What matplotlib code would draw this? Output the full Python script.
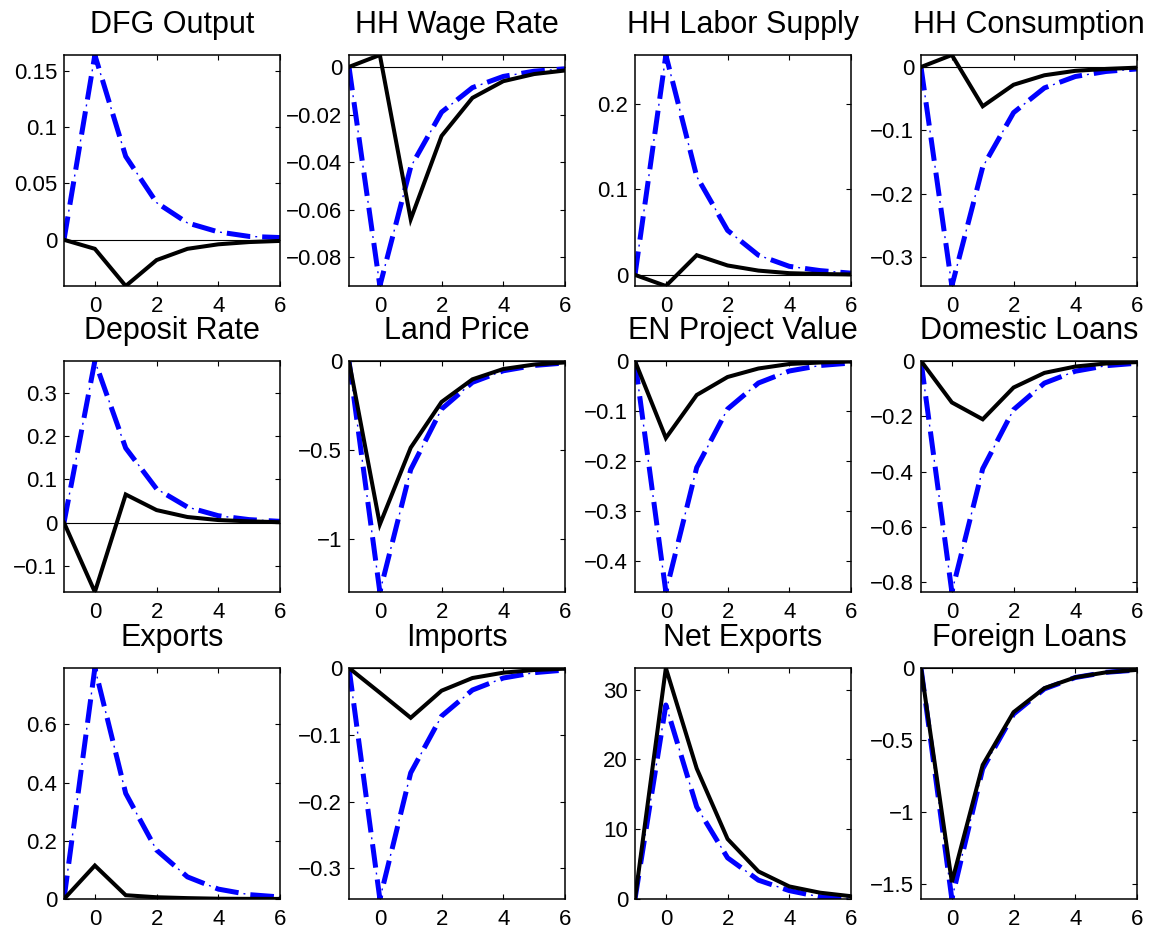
import matplotlib
matplotlib.use("Agg")
import matplotlib.pyplot as plt
from matplotlib.ticker import FixedLocator, FuncFormatter

plt.rcParams['font.family'] = ['Liberation Sans', 'DejaVu Sans']
plt.rcParams['lines.scale_dashes'] = False

horizon = [-1, 0, 1, 2, 3, 4, 5, 6]
xticks = [0, 2, 4, 6]

titles = ["DFG Output", "HH Wage Rate", "HH Labor Supply", "HH Consumption",
          "Deposit Rate", "Land Price", "EN Project Value", "Domestic Loans",
          "Exports", "Imports", "Net Exports", "Foreign Loans"]

dfg_black = [0, -0.008, -0.041, -0.018, -0.008, -0.004, -0.002, -0.001]
dfg_blue = [0, 0.164, 0.074, 0.033, 0.015, 0.007, 0.003, 0.002]
wage_black = [0, 0.005, -0.064, -0.029, -0.013, -0.006, -0.003, -0.0015]
wage_blue = [0, -0.092, -0.042, -0.019, -0.0087, -0.004, -0.0018, -0.0008]
labor_black = [0, -0.013, 0.023, 0.011, 0.005, 0.002, 0.001, 0.0005]
labor_blue = [0, 0.257, 0.115, 0.052, 0.023, 0.010, 0.005, 0.002]
cons_black = [0, 0.019, -0.062, -0.028, -0.013, -0.006, -0.003, -0.001]
cons_blue = [0, -0.346, -0.158, -0.072, -0.033, -0.015, -0.007, -0.003]
dep_black = [0, -0.16, 0.065, 0.029, 0.013, 0.006, 0.003, 0.001]
dep_blue = [0, 0.373, 0.172, 0.078, 0.036, 0.016, 0.007, 0.003]
land_black = [0, -0.918, -0.487, -0.230, -0.103, -0.045, -0.020, -0.008]
land_blue = [0, -1.298, -0.61, -0.27, -0.12, -0.055, -0.025, -0.011]
en_black = [0, -0.154, -0.068, -0.032, -0.015, -0.006, -0.003, -0.001]
en_blue = [0, -0.462, -0.213, -0.096, -0.044, -0.020, -0.009, -0.004]
dl_black = [0, -0.150, -0.211, -0.096, -0.043, -0.020, -0.009, -0.004]
dl_blue = [0, -0.836, -0.39, -0.176, -0.080, -0.037, -0.017, -0.008]
exp_black = [0, 0.115, 0.013, 0.006, 0.003, 0.001, 0.0005, 0.0002]
exp_blue = [0, 0.794, 0.363, 0.168, 0.076, 0.034, 0.015, 0.007]
imp_black = [0, -0.037, -0.0746, -0.034, -0.015, -0.007, -0.003, -0.001]
imp_blue = [0, -0.346, -0.157, -0.072, -0.033, -0.015, -0.007, -0.003]
nx_black = [0, 33.1, 18.7, 8.6, 3.95, 1.8, 0.9, 0.4]
nx_blue = [0, 27.8, 13.2, 5.9, 2.7, 1.2, 0.3, 0.1]
fl_black = [0, -1.488, -0.674, -0.307, -0.140, -0.065, -0.030, -0.013]
fl_blue = [0, -1.605, -0.70, -0.32, -0.145, -0.066, -0.030, -0.014]

black_series = [dfg_black, wage_black, labor_black, cons_black,
                dep_black, land_black, en_black, dl_black,
                exp_black, imp_black, nx_black, fl_black]
blue_series = [dfg_blue, wage_blue, labor_blue, cons_blue,
               dep_blue, land_blue, en_blue, dl_blue,
               exp_blue, imp_blue, nx_blue, fl_blue]

yticks = [[0, 0.05, 0.1, 0.15], [-0.08, -0.06, -0.04, -0.02, 0], [0, 0.1, 0.2],
          [-0.3, -0.2, -0.1, 0], [-0.1, 0, 0.1, 0.2, 0.3], [-1, -0.5, 0],
          [-0.4, -0.3, -0.2, -0.1, 0], [-0.8, -0.6, -0.4, -0.2, 0],
          [0, 0.2, 0.4, 0.6], [-0.3, -0.2, -0.1, 0], [0, 10, 20, 30],
          [-1.5, -1, -0.5, 0]]

W, H = 1151, 931
fig = plt.figure(figsize=(W / 100, H / 100), dpi=100)

col_left = [64, 349, 635, 921]
row_top = [55, 361, 668]
aw, ah = 216, 231

fmt = FuncFormatter(lambda v, p: ('%g' % round(v, 10)).replace('-', '\u2212'))

# dash pattern (points): thick dash, gap, thin dot, gap
DASH, GAP, DOT = 17.0, 3.6, 1.4
PERIOD = DASH + 2 * GAP + DOT

for i, title in enumerate(titles):
    r, c = divmod(i, 4)
    left = col_left[c] / W
    bottom = (H - row_top[r] - ah) / H
    ax = fig.add_axes([left, bottom, aw / W, ah / H])
    ax.axhline(0, color='black', lw=0.8, zorder=1)
    ax.plot(horizon, blue_series[i], color='blue', lw=3.6,
            linestyle=(0, (DASH, PERIOD - DASH)), dash_capstyle='butt', zorder=2)
    ax.plot(horizon, blue_series[i], color='blue', lw=1.0,
            linestyle=(PERIOD - DASH - GAP, (DOT, PERIOD - DOT)),
            dash_capstyle='butt', zorder=2)
    ax.plot(horizon, black_series[i], color='black', lw=2.9,
            solid_joinstyle='miter', zorder=3)
    allv = list(black_series[i]) + list(blue_series[i])
    ax.set_ylim(min(allv), max(allv))
    ax.set_xlim(horizon[0], horizon[-1])
    ax.xaxis.set_major_locator(FixedLocator(xticks))
    ax.yaxis.set_major_locator(FixedLocator(yticks[i]))
    ax.yaxis.set_major_formatter(fmt)
    ax.xaxis.set_major_formatter(fmt)
    ax.tick_params(direction='in', length=3.5, width=0.8, top=True, right=True,
                   labelsize=16, colors='black')
    ax.tick_params(axis='x', pad=7)
    ax.tick_params(axis='y', pad=5)
    for s in ax.spines.values():
        s.set_linewidth(1.1)
    ax.set_title(title, fontsize=22, pad=16)

fig.savefig("out.png", dpi=100)
